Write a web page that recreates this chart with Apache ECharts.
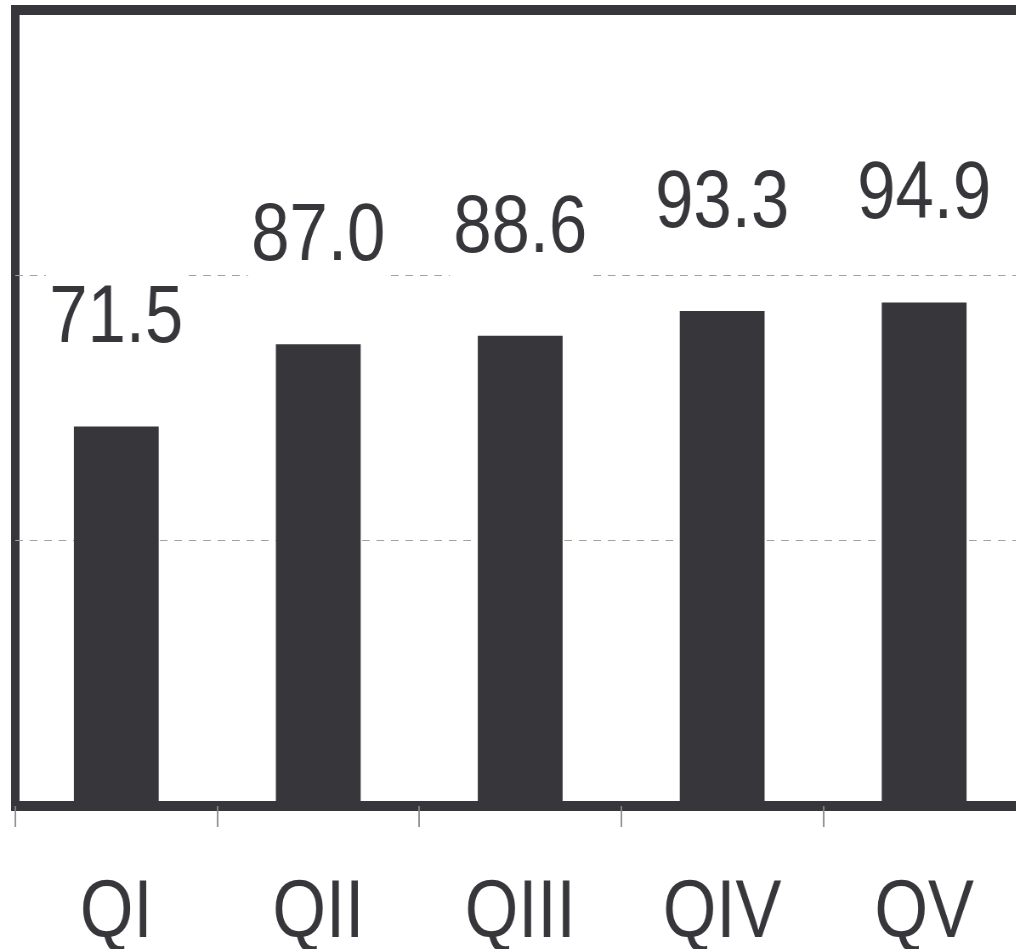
<!DOCTYPE html>
<html>
<head>
<meta charset="utf-8">
<script src="https://cdn.jsdelivr.net/npm/echarts@6/dist/echarts.min.js"></script>
<style>
  html, body { margin: 0; padding: 0; background: #fff; overflow: hidden; }
  #wrap { width: 1016px; height: 949px; overflow: hidden; }
  /* the reference is squeezed horizontally, so draw wider and squeeze */
  #chart { width: 1206px; height: 949px; transform: scaleX(0.85); transform-origin: 0 0; }
</style>
</head>
<body>
<div id="wrap"><div id="chart"></div></div>
<script>
var categories = ['QI', 'QII', 'QIII', 'QIV', 'QV'];
var values = [71.5, 87.0, 88.6, 93.3, 94.9];

var dark = '#37363b';
var font = '"Liberation Sans", Arial, sans-serif';

var myChart = echarts.init(document.getElementById('chart'));
var option = {
  animation: false,
  grid: {
    left: 18,
    right: 0,
    top: 10,
    bottom: 143,
    outerBoundsMode: 'none',
    show: true,
    borderWidth: 10,
    borderColor: dark,
    backgroundColor: 'transparent'
  },
  xAxis: {
    type: 'category',
    data: categories,
    axisLine: { show: false },
    axisTick: {
      show: true,
      length: 21,
      lineStyle: { color: '#888', width: 1.8 }
    },
    axisLabel: {
      margin: 68,
      fontSize: 81,
      lineHeight: 81,
      fontFamily: font,
      color: dark
    }
  },
  yAxis: {
    type: 'value',
    min: 0,
    max: 150,
    interval: 50,
    axisLine: { show: false },
    axisTick: { show: false },
    axisLabel: { show: false },
    splitLine: {
      showMinLine: false,
      showMaxLine: false,
      lineStyle: { color: '#a8a0a0', width: 1, type: [9, 8] }
    }
  },
  series: [
    {
      type: 'bar',
      data: values,
      barWidth: '42%',
      itemStyle: { color: dark },
      label: {
        show: true,
        position: 'top',
        distance: 52,
        fontSize: 81,
        lineHeight: 81,
        fontFamily: font,
        color: dark,
        backgroundColor: '#fff',
        padding: [10, 4, 14, 4],
        formatter: function (p) { return p.value.toFixed(1); }
      }
    }
  ]
};
myChart.setOption(option);
</script>
</body>
</html>
